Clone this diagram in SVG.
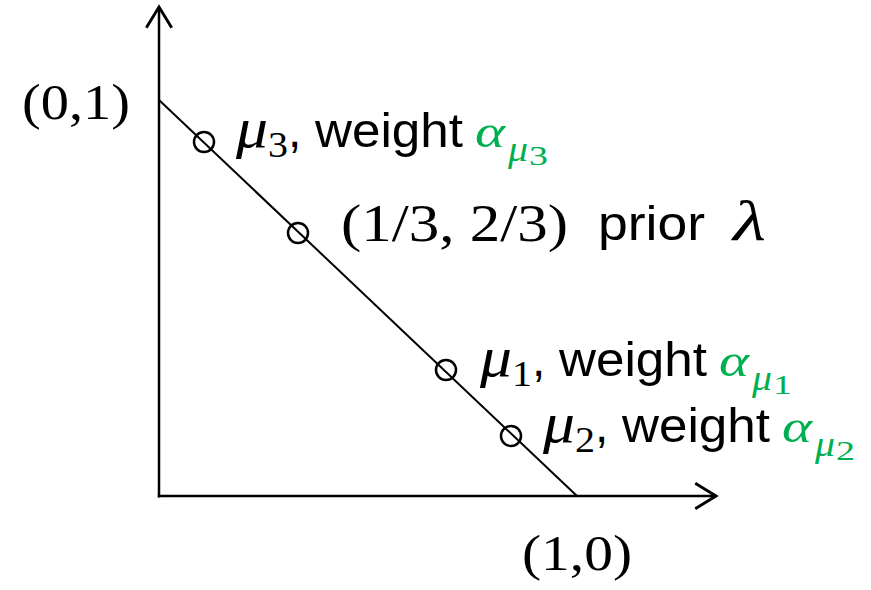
<svg xmlns="http://www.w3.org/2000/svg" width="871" height="590" viewBox="0 0 871 590">
<style>
.ser{font-family:"Liberation Serif","Times New Roman",serif;fill:#000}
.it{font-style:italic}
.sans{font-family:"Liberation Sans",Arial,sans-serif;fill:#000}
.g{fill:#00B050}
.ax{stroke:#000;stroke-width:2.5;fill:none}
.ln{stroke:#000;stroke-width:2;fill:none}
.pt{stroke:#000;stroke-width:2.5;fill:none}
</style>
<defs>
<marker id="chev" markerUnits="userSpaceOnUse" markerWidth="30" markerHeight="30" viewBox="-20 -13 22 26" refX="0" refY="0" orient="auto">
<path d="M-18,-11 L0,0 L-18,11" fill="none" stroke="#000" stroke-width="2.5"/>
</marker>
</defs>
<g id="connectors">
<line class="ax" x1="159" y1="497.5" x2="159" y2="7" marker-end="url(#chev)"/>
<line class="ax" x1="157.8" y1="496" x2="716" y2="496" marker-end="url(#chev)"/>
<line class="ln" x1="159" y1="100" x2="577" y2="496"/>
</g>
<g id="p-mu3"><circle class="pt" cx="204" cy="142" r="10"/></g>
<g id="p-lambda"><circle class="pt" cx="298" cy="233" r="10"/></g>
<g id="p-mu1"><circle class="pt" cx="446" cy="370" r="10"/></g>
<g id="p-mu2"><circle class="pt" cx="511" cy="436" r="10"/></g>
<g id="label-01"><text class="ser" x="22" y="119" font-size="51" textLength="108" lengthAdjust="spacingAndGlyphs">(0,1)</text></g>
<g id="label-10"><text class="ser" x="522" y="570" font-size="51" textLength="110" lengthAdjust="spacingAndGlyphs">(1,0)</text></g>
<g id="label-prior">
<text class="ser" x="341" y="241" font-size="52" textLength="227" lengthAdjust="spacingAndGlyphs">(1/3, 2/3)</text>
<text class="sans" x="598" y="240" font-size="48" textLength="107" lengthAdjust="spacingAndGlyphs">prior</text>
<text class="ser it" x="733" y="240" font-size="56" textLength="33" lengthAdjust="spacingAndGlyphs">λ</text>
</g>
<g id="label-mu3" transform="translate(238,147)">
<text class="ser it" x="-2" y="0" font-size="56" textLength="32" lengthAdjust="spacingAndGlyphs">μ</text>
<text class="ser" x="30" y="10" font-size="36" textLength="20" lengthAdjust="spacingAndGlyphs">3</text>
<text class="sans" x="50" y="0" font-size="48">,</text>
<text class="sans" x="77" y="0" font-size="48" textLength="148" lengthAdjust="spacingAndGlyphs">weight</text>
<text class="ser it g" x="237" y="0" font-size="47" textLength="30" lengthAdjust="spacingAndGlyphs">α</text>
<text class="ser it g" x="270" y="14" font-size="36" textLength="20" lengthAdjust="spacingAndGlyphs">μ</text>
<text class="ser g" x="291" y="18" font-size="27" textLength="19" lengthAdjust="spacingAndGlyphs">3</text>
</g>
<g id="label-mu1" transform="translate(482,376)">
<text class="ser it" x="-2" y="0" font-size="56" textLength="32" lengthAdjust="spacingAndGlyphs">μ</text>
<text class="ser" x="30" y="10" font-size="36" textLength="20" lengthAdjust="spacingAndGlyphs">1</text>
<text class="sans" x="50" y="0" font-size="48">,</text>
<text class="sans" x="77" y="0" font-size="48" textLength="148" lengthAdjust="spacingAndGlyphs">weight</text>
<text class="ser it g" x="237" y="0" font-size="47" textLength="30" lengthAdjust="spacingAndGlyphs">α</text>
<text class="ser it g" x="270" y="14" font-size="36" textLength="20" lengthAdjust="spacingAndGlyphs">μ</text>
<text class="ser g" x="291" y="18" font-size="27" textLength="19" lengthAdjust="spacingAndGlyphs">1</text>
</g>
<g id="label-mu2" transform="translate(545,442)">
<text class="ser it" x="-2" y="0" font-size="56" textLength="32" lengthAdjust="spacingAndGlyphs">μ</text>
<text class="ser" x="30" y="10" font-size="36" textLength="20" lengthAdjust="spacingAndGlyphs">2</text>
<text class="sans" x="50" y="0" font-size="48">,</text>
<text class="sans" x="77" y="0" font-size="48" textLength="148" lengthAdjust="spacingAndGlyphs">weight</text>
<text class="ser it g" x="237" y="0" font-size="47" textLength="30" lengthAdjust="spacingAndGlyphs">α</text>
<text class="ser it g" x="270" y="14" font-size="36" textLength="20" lengthAdjust="spacingAndGlyphs">μ</text>
<text class="ser g" x="291" y="18" font-size="27" textLength="19" lengthAdjust="spacingAndGlyphs">2</text>
</g>
</svg>
